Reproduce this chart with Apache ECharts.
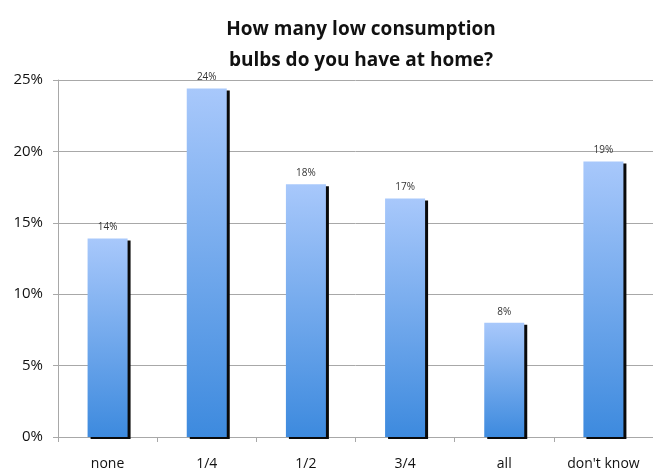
<!DOCTYPE html>
<html>
<head>
<meta charset="utf-8">
<script src="https://cdn.jsdelivr.net/npm/echarts@6/dist/echarts.min.js"></script>
<style>
  html, body { margin: 0; padding: 0; background: #fff; }
  #chart { width: 653px; height: 475px; }
</style>
</head>
<body>
<div id="chart"></div>
<script>
// Survey answers and the share of respondents for each (percent)
const categories = ['none', '1/4', '1/2', '3/4', 'all', "don't know"];
const shares = [13.9, 24.4, 17.7, 16.7, 8.0, 19.3];
const yTicks = [0, 5, 10, 15, 20, 25];

const chart = echarts.init(document.getElementById('chart'));

chart.setOption({
  animation: false,
  title: {
    text: 'How many low consumption\nbulbs do you have at home?',
    left: 356,
    textAlign: 'center',
    top: 9,
    textStyle: {
      fontFamily: 'Open Sans',
      fontWeight: 'bold',
      fontSize: 19,
      lineHeight: 31,
      color: '#111'
    }
  },
  grid: { left: 58, right: -8, top: 80, bottom: 38 },
  xAxis: {
    type: 'category',
    data: categories,
    axisLine: { lineStyle: { color: '#a8a8a8', width: 1 } },
    axisTick: { show: true, length: 5, lineStyle: { color: '#a8a8a8' } },
    axisLabel: {
      fontFamily: 'Open Sans',
      fontSize: 14,
      color: '#111',
      margin: 20
    }
  },
  yAxis: {
    type: 'value',
    min: yTicks[0],
    max: yTicks[yTicks.length - 1],
    interval: 5,
    axisLine: { show: true, lineStyle: { color: '#a8a8a8', width: 1 } },
    axisTick: { show: true, length: 5, lineStyle: { color: '#a8a8a8' } },
    splitLine: { lineStyle: { color: '#a8a8a8', width: 1 } },
    axisLabel: {
      fontFamily: 'Open Sans',
      fontSize: 15,
      color: '#111',
      margin: 15,
      formatter: v => v + '%'
    }
  },
  series: [{
    type: 'bar',
    data: shares,
    barWidth: 40,
    itemStyle: {
      color: new echarts.graphic.LinearGradient(0, 0, 0, 1, [
        { offset: 0, color: '#a8c8fb' },
        { offset: 1, color: '#3d8ade' }
      ]),
      shadowColor: '#0a0a0a',
      shadowOffsetX: 3,
      shadowOffsetY: 2,
      shadowBlur: 0
    },
    label: {
      show: true,
      position: 'top',
      distance: 6,
      fontFamily: 'Open Sans',
      fontSize: 10,
      color: '#333',
      formatter: p => Math.round(p.value) + '%'
    }
  }]
});
</script>
</body>
</html>
